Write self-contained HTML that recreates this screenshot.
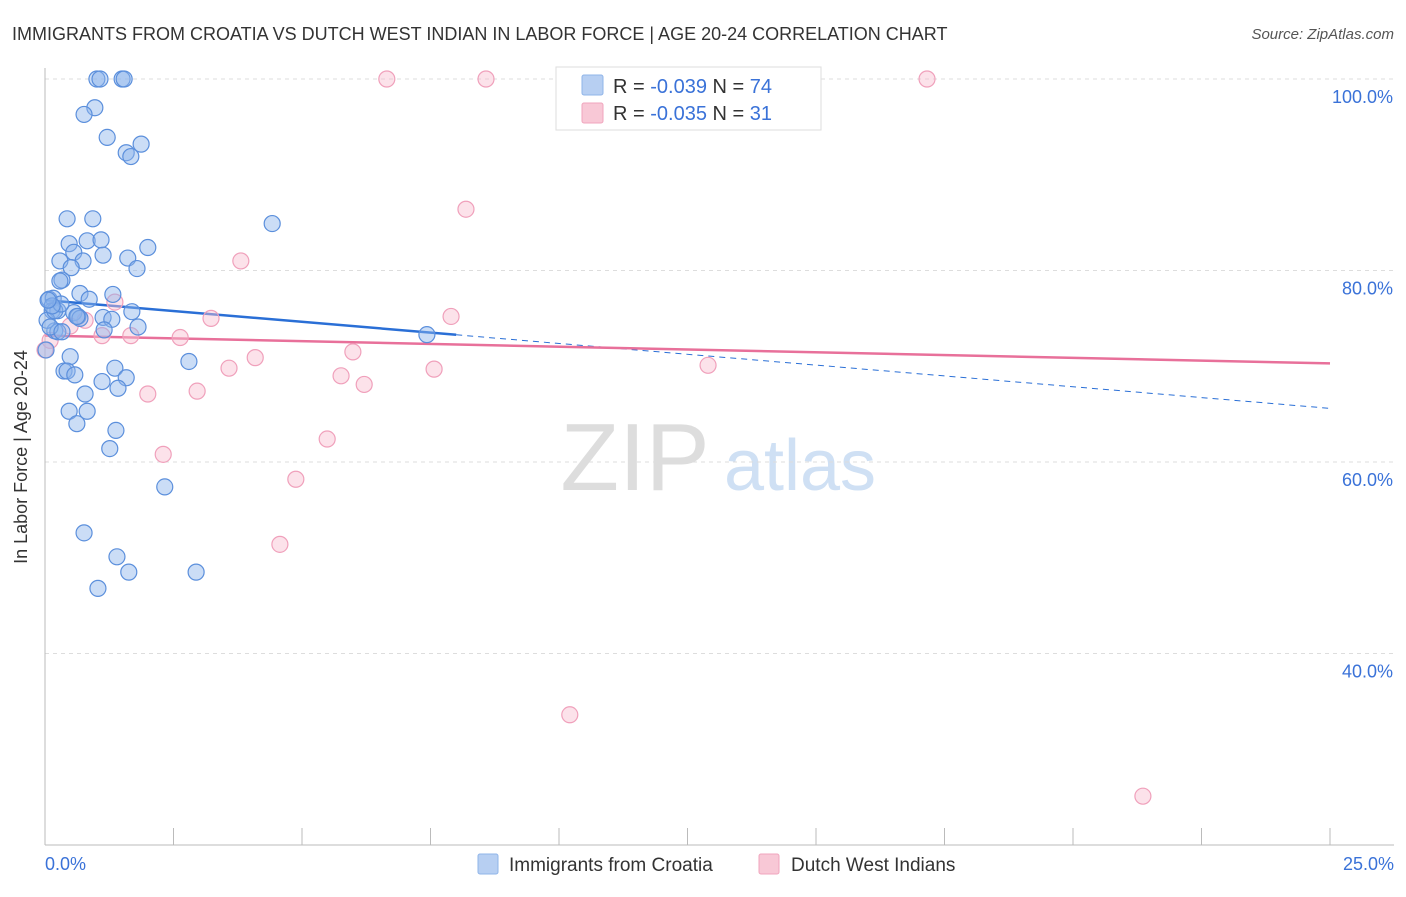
<!DOCTYPE html>
<html><head><meta charset="utf-8">
<style>
body{margin:0;background:#fff;font-family:"Liberation Sans",sans-serif;}
svg text{font-family:"Liberation Sans",sans-serif;}
</style></head>
<body>
<svg id="chart" width="1406" height="892" xmlns="http://www.w3.org/2000/svg">
<text x="12" y="40" font-size="18" fill="#333">IMMIGRANTS FROM CROATIA VS DUTCH WEST INDIAN IN LABOR FORCE | AGE 20-24 CORRELATION CHART</text>
<text x="1394" y="39" font-size="15" fill="#555" font-style="italic" text-anchor="end">Source: ZipAtlas.com</text>
<g>
<text x="635" y="490" font-size="96" fill="#ddd" font-family="Liberation Serif,serif" text-anchor="middle">ZIP</text>
<text x="800" y="490" font-size="72" fill="#cfe0f4" text-anchor="middle">atlas</text>
</g>
<g id="grid"></g>
<g id="axes"></g>
<g id="lines"></g>
<g id="points"></g>
<text x="27" y="457" font-size="18" fill="#333" text-anchor="middle" transform="rotate(-90 27 457)">In Labor Force | Age 20-24</text>
<g>
<rect x="556" y="67" width="265" height="63" fill="#fff" stroke="#ddd"/>
<rect x="582" y="75" width="21" height="20" fill="#b7cff2" stroke="#8fb4e8" rx="2"/>
<rect x="582" y="103" width="21" height="20" fill="#f8c8d6" stroke="#f0a5bd" rx="2"/>
<text x="613" y="93" font-size="20" fill="#333">R = <tspan fill="#3a72d8">-0.039</tspan>   N = <tspan fill="#3a72d8">74</tspan></text>
<text x="613" y="120" font-size="20" fill="#333">R = <tspan fill="#3a72d8">-0.035</tspan>   N = <tspan fill="#3a72d8"> 31</tspan></text>
</g>
<g>
<rect x="478" y="854" width="20" height="20" fill="#b7cff2" stroke="#8fb4e8" rx="2"/>
<text x="509" y="871" font-size="19" fill="#333">Immigrants from Croatia</text>
<rect x="759" y="854" width="20" height="20" fill="#f8c8d6" stroke="#f0a5bd" rx="2"/>
<text x="791" y="871" font-size="19" fill="#333">Dutch West Indians</text>
</g>
</svg>
<script>
const blueX=[1.01,1.07,1.50,1.54,0.97,0.76,1.21,1.58,1.67,1.87,0.43,0.93,4.42,0.47,0.82,1.09,2.00,0.56,0.29,0.74,1.13,1.61,0.51,1.79,0.33,0.29,0.08,0.16,0.68,0.86,1.32,0.14,0.25,0.56,0.64,1.13,1.30,1.69,1.81,1.15,0.19,0.25,0.49,2.80,0.37,0.43,1.36,0.58,1.11,1.58,1.42,0.78,0.47,0.82,0.62,1.38,1.26,2.33,0.76,1.40,1.63,2.94,1.03,7.43,0.04,0.10,0.02,0.19,0.31,0.14,0.68,0.62,0.06,0.33];
const blueY=[100,100,100,100,97.0,96.3,93.9,92.3,91.9,93.2,85.4,85.4,84.9,82.8,83.1,83.2,82.4,81.9,81.0,81.0,81.6,81.3,80.3,80.2,79.0,78.9,77.0,77.1,77.6,77.0,77.5,75.8,75.8,75.6,75.2,75.1,74.9,75.7,74.1,73.8,73.7,73.6,71.0,70.5,69.5,69.5,69.8,69.1,68.4,68.8,67.7,67.1,65.3,65.3,64.0,63.3,61.4,57.4,52.6,50.1,48.5,48.5,46.8,73.3,74.8,74.1,71.7,75.8,76.5,76.3,75.0,75.2,76.9,73.6];
const pinkX=[6.65,8.58,13.46,17.16,8.19,3.81,1.36,3.23,7.90,2.63,1.11,1.67,4.09,3.58,5.99,5.76,6.21,7.57,12.90,2.00,2.96,2.30,5.49,4.88,4.57,10.21,21.36,0.10,0.49,0.78,0];
const pinkY=[100,100,100,100,86.4,81.0,76.7,75.0,75.2,73.0,73.2,73.2,70.9,69.8,71.5,69.0,68.1,69.7,70.1,67.1,67.4,60.8,62.4,58.2,51.4,33.6,25.1,72.7,74.2,74.8,71.7];
const blueTrend=[76.9,65.6]; // values at x=0 and x=25
const blueSolidEnd=8.0;
const pinkTrend=[73.2,70.3];
const yTicks=[100,80,60,40];
const NS='http://www.w3.org/2000/svg';
const X=v=>45+v/25*1285;
const Y=v=>79+(100-v)*9.575;
function mk(tag,attrs,parent){const e=document.createElementNS(NS,tag);for(const k in attrs)e.setAttribute(k,attrs[k]);parent.appendChild(e);return e;}
const grid=document.getElementById('grid'),axes=document.getElementById('axes'),lines=document.getElementById('lines'),pts=document.getElementById('points');
yTicks.forEach(t=>{
 const l=mk('line',{x1:45,x2:1394,y1:Y(t),y2:Y(t),stroke:'#ddd','stroke-dasharray':'4 4'},grid);
 
 
 const tx=mk('text',{x:1393,y:Y(t)+24,'font-size':18,fill:'#3a72d8','text-anchor':'end'},grid);
 tx.textContent=t.toFixed(1)+'%';
 
 
});
const ya=mk('line',{x1:45,x2:45,y1:68,y2:845,stroke:'#bbb'},axes);


const xa=mk('line',{x1:45,x2:1394,y1:845,y2:845,stroke:'#bbb'},axes);


for(let i=0;i<=10;i++){const x=X(i*2.5);const t=mk('line',{x1:x,x2:x,y1:828,y2:845,stroke:'#bbb'},axes);
 
 }
[[0,'0.0%','start',45],[25,'25.0%','end',1394]].forEach(([v,s,a,x])=>{const t=mk('text',{x:x,y:870,'font-size':18,fill:'#3a72d8','text-anchor':a},axes);t.textContent=s;
 
 });
function trendAt(tr,x){return tr[0]+(tr[1]-tr[0])*x/25;}
const bs=mk('line',{x1:X(0),y1:Y(trendAt(blueTrend,0)),x2:X(blueSolidEnd),y2:Y(trendAt(blueTrend,blueSolidEnd)),stroke:'#2a6fd6','stroke-width':2.5},lines);


const bd=mk('line',{x1:X(blueSolidEnd),y1:Y(trendAt(blueTrend,blueSolidEnd)),x2:X(25),y2:Y(trendAt(blueTrend,25)),stroke:'#2a6fd6','stroke-width':1,'stroke-dasharray':'6 5'},lines);


const pl=mk('line',{x1:X(0),y1:Y(pinkTrend[0]),x2:X(25),y2:Y(pinkTrend[1]),stroke:'#e8709a','stroke-width':2.5},lines);


pinkX.forEach((x,i)=>{const c=mk('circle',{cx:X(x),cy:Y(pinkY[i]),r:8,fill:'rgba(248,190,208,0.45)',stroke:'#f0a0bb','stroke-width':1.2},pts);
 
 });
blueX.forEach((x,i)=>{const c=mk('circle',{cx:X(x),cy:Y(blueY[i]),r:8,fill:'rgba(140,180,235,0.45)',stroke:'#5b8fdc','stroke-width':1.2},pts);
 
 });
</script>
</body></html>
